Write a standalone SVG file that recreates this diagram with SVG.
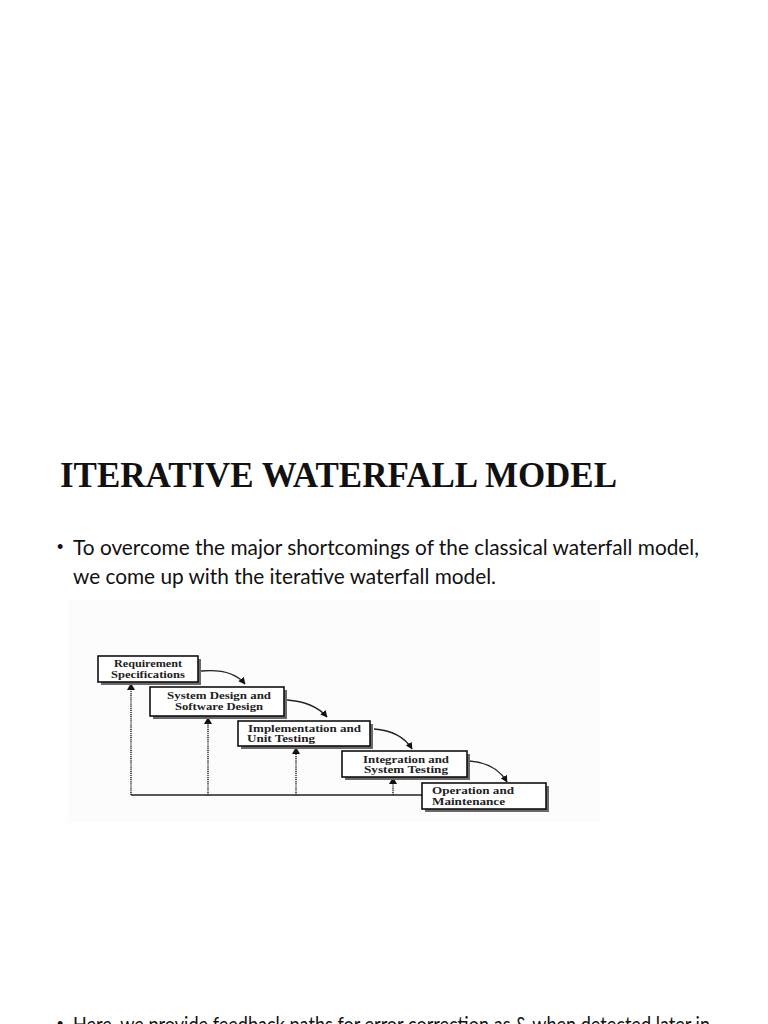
<svg xmlns="http://www.w3.org/2000/svg" width="768" height="1024" viewBox="0 0 768 1024">
<style>
.title{font-family:"Liberation Serif","Times New Roman",serif;font-weight:bold;font-size:36px;fill:#111}
.body{font-family:Lato,"Open Sans","Liberation Sans",sans-serif;font-size:21px;fill:#111}
.bul{font-family:"Liberation Sans",Arial,sans-serif;font-size:18px;fill:#111}
.lbl{font-family:"Liberation Serif","Times New Roman",serif;font-weight:bold;font-size:10.5px;fill:#222}
.box{fill:#fff;stroke:#111;stroke-width:1.6}
.shadow{fill:#6a6a6a}
.dot{fill:none;stroke:#222;stroke-width:1.5;stroke-dasharray:1.2 0.9}
.solid{fill:none;stroke:#222;stroke-width:1.4}
.curve{fill:none;stroke:#222;stroke-width:1.3}
</style>
<defs>
<marker id="ah" viewBox="0 0 10 10" refX="9" refY="5" markerWidth="7" markerHeight="7" orient="auto" markerUnits="userSpaceOnUse">
<path d="M0,0 L10,5 L0,10 z" fill="#111"/>
</marker>
</defs>
<rect width="768" height="1024" fill="#fff"/>
<rect x="68" y="600" width="532" height="222" fill="#fcfcfc"/>
<text class="title" x="60" y="487" textLength="557" lengthAdjust="spacingAndGlyphs">ITERATIVE WATERFALL MODEL</text>
<text class="bul" x="57" y="553">•</text>
<text class="body" x="73" y="555" textLength="626" lengthAdjust="spacingAndGlyphs">To overcome the major shortcomings of the classical waterfall model,</text>
<text class="body" x="73" y="584" textLength="423" lengthAdjust="spacingAndGlyphs">we come up with the iterative waterfall model.</text>
<text class="bul" x="57" y="1030">•</text>
<text class="body" x="73" y="1032" textLength="637" lengthAdjust="spacingAndGlyphs">Here, we provide feedback paths for error correction as &amp; when detected later in</text>

<g id="connectors">
<path class="solid" d="M131,795 H422"/>
<path class="dot" d="M131,795 V690"/>
<path d="M127,690 L131,683 L135,690 z" fill="#111"/>
<path class="dot" d="M208,795 V724"/>
<path d="M204,724 L208,717 L212,724 z" fill="#111"/>
<path class="dot" d="M296,795 V754"/>
<path d="M292,754 L296,747 L300,754 z" fill="#111"/>
<path class="dot" d="M393,795 V784"/>
<path d="M389,784 L393,777 L397,784 z" fill="#111"/>
<path class="curve" d="M201,671 Q232,668 245,684" marker-end="url(#ah)"/>
<path class="curve" d="M287,700 Q314,702 327,717" marker-end="url(#ah)"/>
<path class="curve" d="M374,729 Q401,731 412,749" marker-end="url(#ah)"/>
<path class="curve" d="M469,761 Q496,763 507,782" marker-end="url(#ah)"/>
</g>

<g id="n1">
<rect class="shadow" x="101" y="659" width="100" height="26"/>
<rect class="box" x="98" y="656" width="100" height="26"/>
<text class="lbl" x="148" y="667" text-anchor="middle" textLength="68" lengthAdjust="spacingAndGlyphs">Requirement</text>
<text class="lbl" x="148" y="677.5" text-anchor="middle" textLength="74" lengthAdjust="spacingAndGlyphs">Specifications</text>
</g>
<g id="n2">
<rect class="shadow" x="153" y="690" width="134" height="29"/>
<rect class="box" x="150" y="687" width="134" height="29"/>
<text class="lbl" x="219" y="698.5" text-anchor="middle" textLength="104" lengthAdjust="spacingAndGlyphs">System Design and</text>
<text class="lbl" x="219" y="709.5" text-anchor="middle" textLength="88" lengthAdjust="spacingAndGlyphs">Software Design</text>
</g>
<g id="n3">
<rect class="shadow" x="241" y="724" width="132" height="25"/>
<rect class="box" x="238" y="721" width="132" height="25"/>
<text class="lbl" x="248" y="732" textLength="113" lengthAdjust="spacingAndGlyphs">Implementation and</text>
<text class="lbl" x="247" y="742" textLength="68" lengthAdjust="spacingAndGlyphs">Unit Testing</text>
</g>
<g id="n4">
<rect class="shadow" x="345" y="754" width="125" height="26"/>
<rect class="box" x="342" y="751" width="125" height="26"/>
<text class="lbl" x="406" y="762.5" text-anchor="middle" textLength="86" lengthAdjust="spacingAndGlyphs">Integration and</text>
<text class="lbl" x="406" y="773" text-anchor="middle" textLength="84" lengthAdjust="spacingAndGlyphs">System Testing</text>
</g>
<g id="n5">
<rect class="shadow" x="425" y="786" width="124" height="26"/>
<rect class="box" x="422" y="783" width="124" height="26"/>
<text class="lbl" x="432" y="794" textLength="82" lengthAdjust="spacingAndGlyphs">Operation and</text>
<text class="lbl" x="432" y="804.5" textLength="73" lengthAdjust="spacingAndGlyphs">Maintenance</text>
</g>
</svg>
